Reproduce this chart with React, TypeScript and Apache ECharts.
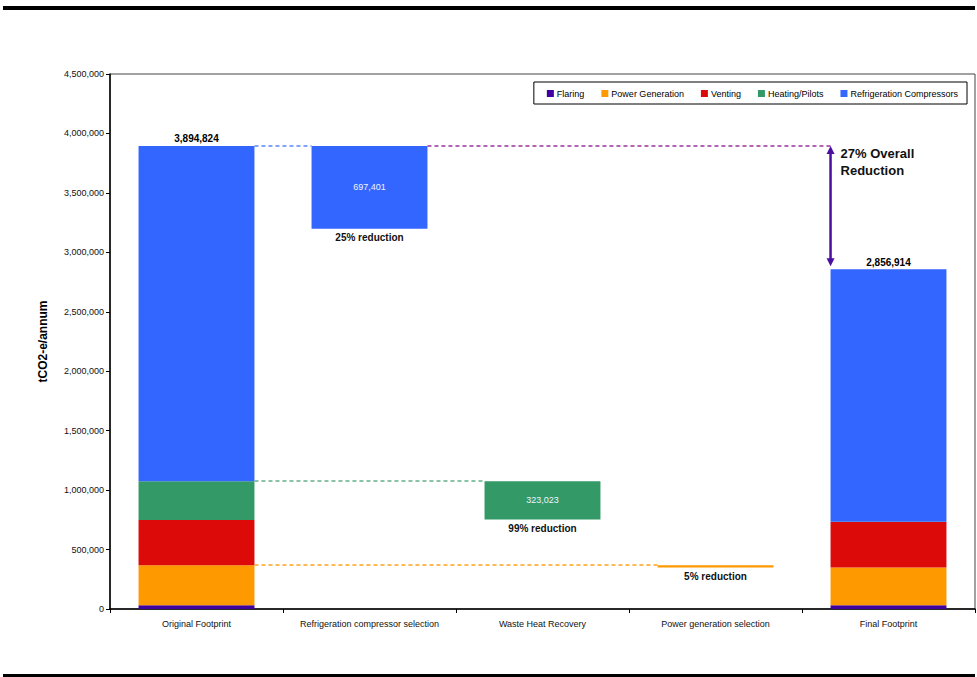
import React, { useEffect, useRef } from "react";
import * as echarts from "echarts";

const categories = [
  "Original Footprint",
  "Refrigeration compressor selection",
  "Waste Heat Recovery",
  "Power generation selection",
  "Final Footprint",
];
const seriesNames = ["Flaring", "Power Generation", "Venting", "Heating/Pilots", "Refrigeration Compressors"];
const seriesColors = ["#4000A0", "#FF9900", "#DD0A0A", "#339966", "#3366FF"];

const flaring = [32000, null, null, null, 32000];
const powerGeneration = [335000, null, null, 17486, 317514];
const venting = [382000, null, null, null, 382000];
const heatingPilots = [326286, null, 323023, null, 3263];
const refrigerationCompressors = [2819538, 697401, null, null, 2122137];
const floatBase = [null, 3197423, 752263, 349514, null];
const totals = [3894824, null, null, null, 2856914];
const showChangeLabel = [false, true, true, false, false];
const reductionLabels = ["", "25% reduction", "99% reduction", "5% reduction", ""];

// connectors: [fromCategory, toCategory, value]
const connectorBlue = [[0, 1, 3894824]];
const connectorPurple = [[1, 4, 3894824]];
const connectorGreen = [[0, 2, 1075286]];
const connectorOrange = [[0, 3, 372000]];
const overall = [[4, 3894824, 2856914]];
const overallText = "27% Overall\nReduction";

const FONT = "'Liberation Sans', Arial, sans-serif";
const BAR_RATIO = 0.67;
const fmt = (v: number) => v.toLocaleString("en-US");

function connectorSeries(name: string, data: number[][], color: string) {
  return {
    name,
    type: "custom",
    encode: { x: 0, y: 2 },
    silent: true,
    z: 5,
    data,
    renderItem: (params: any, api: any) => {
      const from = api.value(0);
      const to = api.value(1);
      const v = api.value(2);
      const p1 = api.coord([from, v]);
      const p2 = api.coord([to, v]);
      const half = (api.size([1, 0])[0] * BAR_RATIO) / 2;
      const y = Math.round(p1[1]);
      return {
        type: "line",
        shape: { x1: p1[0] + half, y1: y, x2: p2[0] - half, y2: y },
        style: { stroke: color, lineWidth: 1.5, lineDash: [4, 3] },
      };
    },
  };
}

export default function App() {
  const ref = useRef<HTMLDivElement>(null);
  useEffect(() => {
    if (!ref.current) return;
    const chart = echarts.init(ref.current, null, { renderer: "svg" });
    const values = [flaring, powerGeneration, venting, heatingPilots, refrigerationCompressors];

    const stackSeries = values.map((arr, si) => ({
      name: seriesNames[si],
      type: "bar",
      stack: "s",
      barWidth: BAR_RATIO * 100 + "%",
      itemStyle: { color: seriesColors[si] },
      emphasis: { disabled: true },
      data: arr.map((v, i) => {
        if (v === null) return "-";
        const item: any = { value: v };
        if (si === values.length - 1 && totals[i] !== null) {
          item.label = {
            show: true,
            position: "top",
            distance: 2,
            formatter: fmt(totals[i] as number),
            fontFamily: FONT,
            fontWeight: "bold",
            fontSize: 10,
            color: "#000",
          };
        }
        if (totals[i] === null && showChangeLabel[i]) {
          item.label = {
            show: true,
            position: "inside",
            formatter: fmt(v),
            fontFamily: FONT,
            fontSize: 9,
            color: "#F0F4FF",
          };
        }
        return item;
      }),
    }));

    const option: any = {
      animation: false,
      grid: { left: 110, right: 2, top: 74, bottom: 68, show: true, borderColor: "#444", borderWidth: 1 },
      legend: {
        data: seriesNames.map((n) => ({ name: n, icon: "rect" })),
        right: 10,
        top: 82,
        itemWidth: 7,
        itemHeight: 7,
        itemGap: 17,
        padding: [7, 9, 6, 13],
        borderColor: "#000",
        borderWidth: 1,
        textStyle: { fontFamily: FONT, fontSize: 9, color: "#000", padding: [0, 0, 0, -2] },
        selectedMode: false,
      },
      xAxis: {
        type: "category",
        data: categories,
        axisLine: { lineStyle: { color: "#000", width: 1.5 } },
        axisTick: { show: true, length: 4, lineStyle: { color: "#000" } },
        axisLabel: { interval: 0, fontFamily: FONT, fontSize: 9, color: "#111", margin: 10 },
      },
      yAxis: {
        type: "value",
        min: 0,
        max: 4500000,
        interval: 500000,
        name: "tCO2-e/annum",
        nameLocation: "middle",
        nameRotate: 90,
        nameGap: 61,
        nameTextStyle: { fontFamily: FONT, fontSize: 12, fontWeight: "bold", color: "#000" },
        splitLine: { show: false },
        axisLine: { show: true, lineStyle: { color: "#000", width: 1.5 } },
        axisTick: { show: true, length: 4, lineStyle: { color: "#000" } },
        axisLabel: { fontFamily: FONT, fontSize: 9, color: "#111", margin: 6, formatter: (v: number) => fmt(v) },
      },
      series: [
        {
          name: "base",
          type: "bar",
          stack: "s",
          barWidth: BAR_RATIO * 100 + "%",
          itemStyle: { color: "rgba(0,0,0,0)" },
          emphasis: { disabled: true },
          data: floatBase.map((v, i) =>
            v === null
              ? "-"
              : {
                  value: v,
                  label: {
                    show: true,
                    position: "insideTop",
                    distance: 4,
                    formatter: reductionLabels[i],
                    fontFamily: FONT,
                    fontWeight: "bold",
                    fontSize: 10,
                    color: "#111",
                  },
                }
          ),
        },
        ...stackSeries,
        connectorSeries("c-blue", connectorBlue, "#5C85FF"),
        connectorSeries("c-purple", connectorPurple, "#993399"),
        connectorSeries("c-green", connectorGreen, "#66B08C"),
        connectorSeries("c-orange", connectorOrange, "#FFA31A"),
        {
          name: "overall",
          type: "custom",
          encode: { x: 0, y: [1, 2] },
          silent: true,
          z: 6,
          data: overall,
          renderItem: (params: any, api: any) => {
            const cat = api.value(0);
            const top = api.coord([cat, api.value(1)]);
            const bot = api.coord([cat, api.value(2)]);
            const half = (api.size([1, 0])[0] * BAR_RATIO) / 2;
            const x = top[0] - half;
            const y1 = top[1];
            const y2 = bot[1] - 3;
            const c = "#4B0FA0";
            return {
              type: "group",
              children: [
                { type: "line", shape: { x1: x, y1: y1 + 6, x2: x, y2: y2 - 6 }, style: { stroke: c, lineWidth: 2.5 } },
                { type: "polygon", shape: { points: [[x, y1], [x - 4, y1 + 8], [x + 4, y1 + 8]] }, style: { fill: c } },
                { type: "polygon", shape: { points: [[x, y2], [x - 4, y2 - 8], [x + 4, y2 - 8]] }, style: { fill: c } },
                {
                  type: "text",
                  x: x + 10,
                  y: y1 - 1,
                  style: {
                    text: overallText,
                    fontFamily: FONT,
                    fontSize: 13,
                    fontWeight: "bold",
                    fill: "#111",
                    lineHeight: 17,
                    textVerticalAlign: "top",
                  },
                },
              ],
            };
          },
        },
      ],
      graphic: [
        { type: "rect", shape: { x: 3, y: 6, width: 972, height: 4 }, style: { fill: "#000" } },
        { type: "rect", shape: { x: 3, y: 674, width: 972, height: 3 }, style: { fill: "#000" } },
      ],
    };
    chart.setOption(option);
    return () => chart.dispose();
  }, []);
  return (
    <div
      ref={ref}
      style={{ position: "absolute", left: 0, top: 0, width: 977, height: 677, background: "#fff" }}
    />
  );
}
